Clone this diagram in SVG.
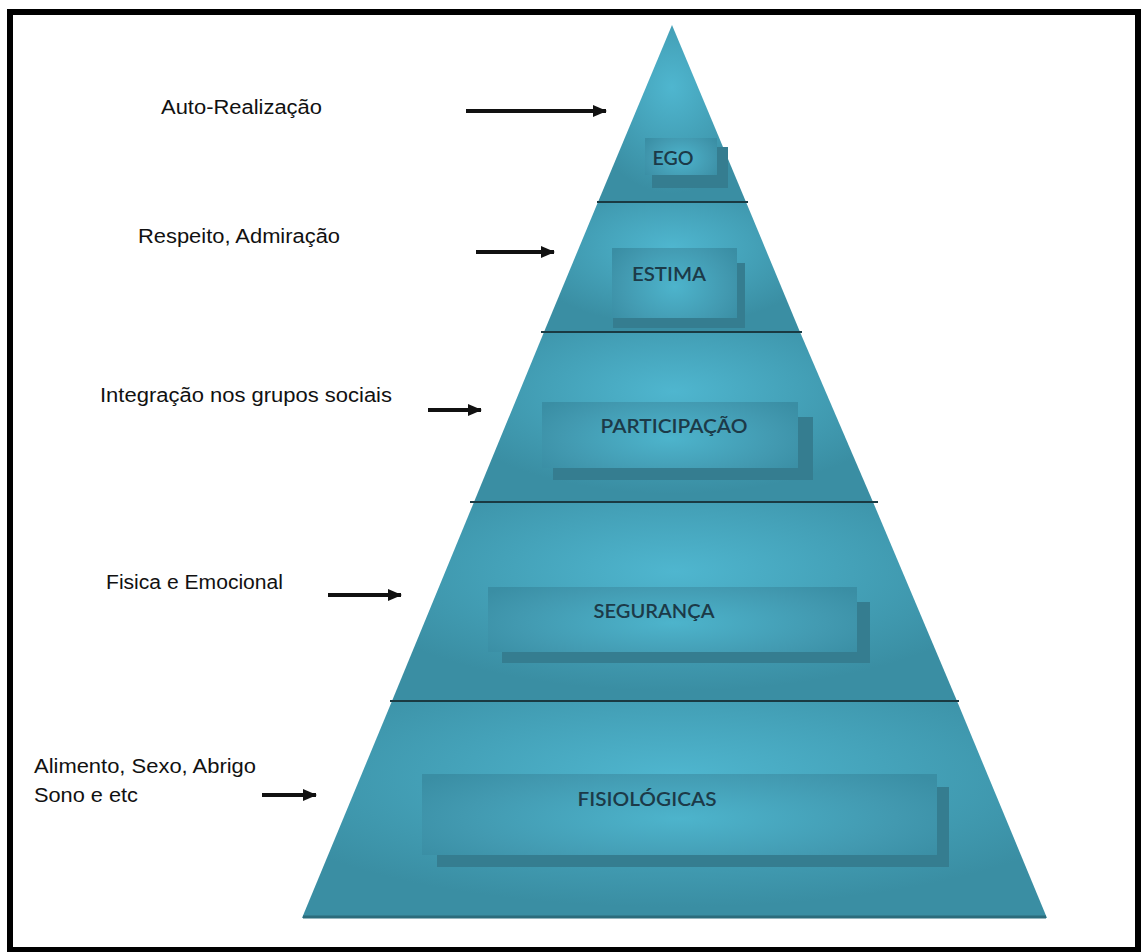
<svg xmlns="http://www.w3.org/2000/svg" width="1141" height="952" viewBox="0 0 1141 952">
<defs>
  <radialGradient id="band" cx="0.5" cy="0.35" r="0.6">
    <stop offset="0" stop-color="#4fb6cf"/>
    <stop offset="1" stop-color="#3a8ea3"/>
  </radialGradient>
  <radialGradient id="box" cx="0.5" cy="0.55" r="0.6" gradientTransform="translate(0.5 0.55) scale(1 1.4) translate(-0.5 -0.55)">
    <stop offset="0" stop-color="#4db4cc"/>
    <stop offset="0.7" stop-color="#4299b0"/>
    <stop offset="1" stop-color="#3a8ea4"/>
  </radialGradient>
  <marker id="ah" viewBox="0 0 14 12" refX="13" refY="6" markerWidth="14" markerHeight="12" markerUnits="userSpaceOnUse" orient="auto">
    <path d="M0,0 L14,6 L0,12 Z" fill="#111"/>
  </marker>
</defs>
<style>
  .lbl { font-family: "Liberation Sans", Arial, sans-serif; font-size: 20px; fill: #111; }
  .lvl { font-family: Lato, "Open Sans", sans-serif; font-size: 19px; font-weight: 600; fill: #1c3a48; text-anchor: middle; }
  .sep { stroke: #1a3a42; stroke-width: 2; }
  .shadow { fill: #357d90; }
  .inner { fill: url(#box); }
  .arrow { stroke: #111; stroke-width: 4; fill: none; marker-end: url(#ah); }
</style>
<rect x="0" y="0" width="1141" height="952" fill="#fff"/>
<rect x="10" y="12" width="1128" height="938" fill="none" stroke="#000" stroke-width="6"/>

<g id="pyramid">
  <polygon points="672,25 598,202 746,202" fill="url(#band)"/>
  <polygon points="598,202 746,202 800,332 544,332" fill="url(#band)"/>
  <polygon points="544,332 800,332 873,502 474,502" fill="url(#band)"/>
  <polygon points="474,502 873,502 957,701 392,701" fill="url(#band)"/>
  <polygon points="392,701 957,701 1047,918 302,918" fill="url(#band)"/>
  <line x1="303" y1="917" x2="1046" y2="917" stroke="#2c6c7c" stroke-width="3"/>
  <line class="sep" x1="597" y1="202" x2="748" y2="202"/>
  <line class="sep" x1="541" y1="332" x2="802" y2="332"/>
  <line class="sep" x1="470" y1="502" x2="878" y2="502"/>
  <line class="sep" x1="390" y1="701" x2="959" y2="701"/>
</g>

<g id="ego">
  <rect class="shadow" x="652" y="147" width="76" height="41"/>
  <rect class="inner" x="645" y="138" width="72" height="37"/>
  <text class="lvl" x="673" y="165" textLength="41" lengthAdjust="spacingAndGlyphs">EGO</text>
</g>
<g id="estima">
  <rect class="shadow" x="613" y="263" width="132" height="65"/>
  <rect class="inner" x="612" y="248" width="125" height="70"/>
  <text class="lvl" x="669" y="281" textLength="74" lengthAdjust="spacingAndGlyphs">ESTIMA</text>
</g>
<g id="participacao">
  <rect class="shadow" x="553" y="417" width="260" height="63"/>
  <rect class="inner" x="542" y="402" width="256" height="66"/>
  <text class="lvl" x="674" y="433" textLength="147" lengthAdjust="spacingAndGlyphs">PARTICIPAÇÃO</text>
</g>
<g id="seguranca">
  <rect class="shadow" x="502" y="602" width="368" height="61"/>
  <rect class="inner" x="488" y="587" width="369" height="65"/>
  <text class="lvl" x="654" y="618" textLength="121" lengthAdjust="spacingAndGlyphs">SEGURANÇA</text>
</g>
<g id="fisiologicas">
  <rect class="shadow" x="437" y="787" width="512" height="80"/>
  <rect class="inner" x="422" y="774" width="515" height="81"/>
  <text class="lvl" x="647" y="806" textLength="139" lengthAdjust="spacingAndGlyphs">FISIOLÓGICAS</text>
</g>

<g id="labels">
  <text class="lbl" x="161" y="114" textLength="161" lengthAdjust="spacingAndGlyphs">Auto-Realização</text>
  <text class="lbl" x="138" y="243" textLength="202" lengthAdjust="spacingAndGlyphs">Respeito, Admiração</text>
  <text class="lbl" x="100" y="402" textLength="292" lengthAdjust="spacingAndGlyphs">Integração nos grupos sociais</text>
  <text class="lbl" x="106" y="589" textLength="177" lengthAdjust="spacingAndGlyphs">Fisica e Emocional</text>
  <text class="lbl" x="34" y="773" textLength="222" lengthAdjust="spacingAndGlyphs">Alimento, Sexo, Abrigo</text>
  <text class="lbl" x="34" y="802" textLength="104" lengthAdjust="spacingAndGlyphs">Sono e etc</text>
</g>

<g id="connectors">
  <line class="arrow" x1="466" y1="111" x2="606" y2="111"/>
  <line class="arrow" x1="476" y1="252" x2="554" y2="252"/>
  <line class="arrow" x1="428" y1="410" x2="481" y2="410"/>
  <line class="arrow" x1="328" y1="595" x2="401" y2="595"/>
  <line class="arrow" x1="262" y1="795" x2="316" y2="795"/>
</g>
</svg>
